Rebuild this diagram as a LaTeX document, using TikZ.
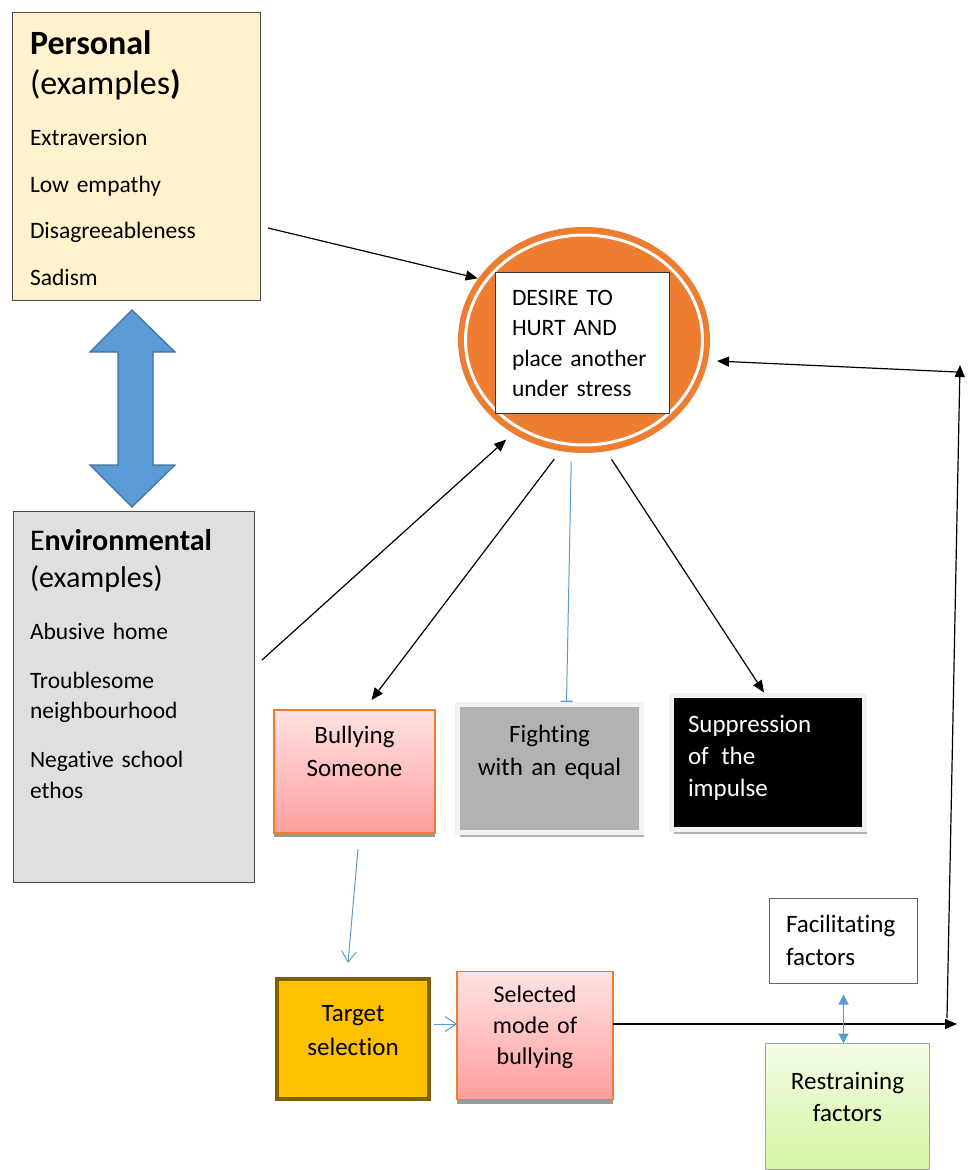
\documentclass[tikz,border=0pt]{standalone}
\usepackage{fontspec}
\setmainfont{Carlito}[Ligatures=NoCommon]
\usepackage{xcolor}
\usepackage{tikz}
\usetikzlibrary{shapes,positioning,arrows.meta,shadows}
\definecolor{persfill}{HTML}{FFF2CC}
\definecolor{envfill}{HTML}{DFDFDF}
\definecolor{deorange}{HTML}{ED7D31}
\definecolor{pinktop}{HTML}{FFE2E2}
\definecolor{pinkbot}{HTML}{FF9E9E}
\definecolor{softblue}{HTML}{5B9BD5}
\definecolor{darkblue}{HTML}{41719C}
\definecolor{gold}{HTML}{FFC000}
\definecolor{goldrim}{HTML}{7F6000}
\definecolor{greentop}{HTML}{F3FCE8}
\definecolor{greenbot}{HTML}{D6F5A2}
\tikzset{box/.style={anchor=north west,inner ysep=0pt,outer sep=0pt,font=\fontsize{25}{33}\selectfont}}
\tikzset{exbox/.style={box,draw=black!70,line width=0.9pt,align=left,font=\fontsize{23.5}{30.5}\selectfont}}
\tikzset{pinkbox/.style={box,draw=deorange,line width=1.2pt,top color=pinktop,bottom color=pinkbot,align=center,
  drop shadow={shadow xshift=0pt,shadow yshift=-4pt,fill=black!40,opacity=1}}}
\tikzset{framebox/.style={box,draw=black!5,line width=5pt,
  drop shadow={shadow xshift=2pt,shadow yshift=-4pt,fill=black!30,opacity=1}}}
\tikzset{ring/.style={ellipse,fill=deorange,minimum width=252pt,minimum height=226pt,inner sep=0pt,outer sep=9pt,
  path picture={\draw[white,line width=3pt] (path picture bounding box.center) ellipse [x radius=118.5pt,y radius=105pt];}}}
\tikzset{bluearrow/.style={draw=softblue,line width=1pt,-{Straight Barb[length=11pt,width=15pt]}}}
\tikzset{teeline/.style={draw=softblue,line width=1pt,-{Bar[width=12pt,line width=1.4pt]}}}
\tikzset{dblblue/.style={draw=softblue,line width=1.2pt,{Triangle[length=10pt,width=10pt]}-{Triangle[length=10pt,width=10pt]}}}

\begin{document}
\begin{tikzpicture}[x=1pt,y=-1pt,>={Triangle[length=12pt,width=10pt]},line width=1.2pt]
    \useasboundingbox (0,0) rectangle (968,1170);

    \node[exbox,fill=persfill,inner xsep=18pt,text width=212pt,text height=42pt,text depth=246pt] (personal) at (12,12)
        {\fontsize{34}{40}\selectfont\textbf{Personal}\par (examples\textbf{)}\par
         \fontsize{23.5}{46.5}\selectfont\vspace{5pt}Extraversion\par Low empathy\par Disagreeableness\par Sadism\par};
    \node[exbox,fill=envfill,inner xsep=17pt,text width=207pt,text height=39pt,text depth=332pt] (env) at (13,511)
        {\fontsize{30}{37}\selectfont E\textbf{nvironmental}\par (examples)\par
         \fontsize{23.5}{30.5}\selectfont\vspace{21.5pt}Abusive home\par\vspace{18.5pt}Troublesome\\neighbourhood\par
         \vspace{18.5pt}Negative school\\ethos\par};

    \filldraw[fill=softblue,draw=darkblue] (132,310) -- (175,352) -- (153,352) -- (153,465) -- (175,465) -- (132,507)
        -- (90,465) -- (118,465) -- (118,352) -- (90,352) -- cycle;

    \node[ring] (ring) at (584,340) {};
    \node[exbox,fill=white,draw=black!80,inner xsep=17pt,text width=140pt,text height=33pt,text depth=108pt] (desire) at (495,272)
        {DESIRE TO\\HURT AND\\place another\\under stress};

    \node[pinkbox,inner xsep=5pt,text width=151pt,text height=33pt,text depth=90pt] (bully) at (274,710) {Bullying\\Someone};
    \node[framebox,fill=black!30,align=center,inner xsep=5pt,text width=174pt,text height=37.5pt,text depth=90.5pt] (fight) at (457.5,704.5)
        {Fighting\\with an equal};
    \node[framebox,fill=black,text=white,align=left,font=\fontsize{25}{32}\selectfont,inner xsep=16.5pt,text width=160pt,
        text height=36.5pt,text depth=97.5pt] (supp) at (671.5,695.5) {Suppression\\of\ \,the\\impulse};

    \node[box,fill=gold,draw=goldrim,line width=4pt,align=center,font=\fontsize{25}{33.5}\selectfont,inner xsep=5pt,
        text width=142pt,text height=42.5pt,text depth=77.5pt] (target) at (277,979) {Target\\selection};
    \node[pinkbox,font=\fontsize{24}{31}\selectfont,inner xsep=5pt,text width=146pt,text height=31pt,text depth=97pt] (mode) at (457,971.5)
        {Selected\\mode of\\bullying};
    \node[box,fill=white,draw=black!60,align=left,font=\fontsize{25}{32.5}\selectfont,inner xsep=16.5pt,text width=115pt,
        text height=34pt,text depth=51pt] (facil) at (769.5,898.5) {Facilitating\\factors};
    \node[box,top color=greentop,bottom color=greenbot,draw=black!35,align=center,font=\fontsize{25}{32.5}\selectfont,inner xsep=5pt,
        text width=154pt,text height=45.5pt,text depth=80.5pt] (restrain) at (765.5,1043.5) {Restraining\\factors};

    \coordinate (persOut) at (268,228);
    \coordinate (envOut) at (262,660);
    \coordinate (loopStart) at (947,1018);
    \coordinate (loopTop) at (960,365);
    \coordinate (loopBack) at (957,372);
    \coordinate (loopEnd) at (957,1024);

    \draw [->,shorten >=-9pt] (persOut) to [] (ring.151);
    \draw [->] (envOut) to [] (ring.232);
    \draw [->] (ring.256) to [] ([xshift=17pt,yshift=10pt]bully.north);
    \draw [teeline] (ring.264) to [] ([xshift=17pt,yshift=2.5pt]fight.north);
    \draw [->] (ring.283) to [] ([xshift=-4pt,yshift=3pt]supp.north);
    \draw [bluearrow] ([xshift=3.5pt,yshift=-16pt]bully.south) to [] ([xshift=-5pt,yshift=16pt]target.north);
    \draw [bluearrow,shorten <=5pt] (target.east |- loopEnd) to [] (mode.west |- loopEnd);
    \draw [->,line width=1.5pt] (mode.east |- loopEnd) to [] (loopEnd);
    \draw [->] (loopStart) to [] (loopTop);
    \draw [->] (loopBack) to [] (ring.351);
    \draw [dblblue,shorten <=11pt] (facil.south) to [] (restrain.north -| facil.south);
\end{tikzpicture}
\end{document}
